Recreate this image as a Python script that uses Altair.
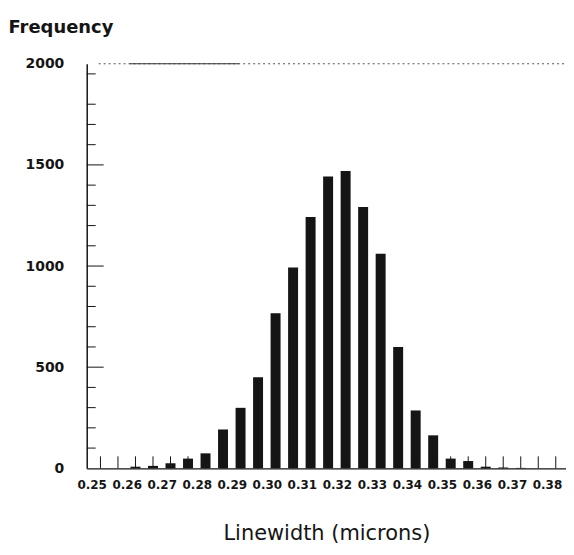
import altair as alt
import pandas as pd

# bin centres (microns) and counts
linewidth = [0.2525, 0.2575, 0.2625, 0.2675, 0.2725, 0.2775, 0.2825, 0.2875, 0.2925,
             0.2975, 0.3025, 0.3075, 0.3125, 0.3175, 0.3225, 0.3275, 0.3325, 0.3375,
             0.3425, 0.3475, 0.3525, 0.3575, 0.3625, 0.3675, 0.3725, 0.3775, 0.3825]
frequency = [0, 0, 8, 12, 25, 48, 74, 192, 299,
             450, 767, 993, 1243, 1443, 1470, 1292, 1061, 600,
             286, 163, 48, 36, 8, 4, 2, 0, 0]

x_ticks = [0.25, 0.26, 0.27, 0.28, 0.29, 0.30, 0.31, 0.32, 0.33, 0.34, 0.35, 0.36, 0.37, 0.38]
y_ticks = [0, 500, 1000, 1500, 2000]
y_minor = [100, 200, 300, 400, 600, 700, 800, 900, 1100, 1200, 1300, 1400,
           1600, 1700, 1800, 1950]
y_major = [500, 1000, 1500]

W, H = 481, 406
FONT = "DejaVu Sans"
INK = "#151515"

df = pd.DataFrame({"lw": linewidth, "freq": frequency})
minor_df = pd.DataFrame({"v": y_minor})
major_df = pd.DataFrame({"v": y_major})

xscale = alt.Scale(domain=[0.25, 0.384], nice=False, zero=False)
yscale = alt.Scale(domain=[0, 2000], nice=False)

xaxis = alt.Axis(
    values=x_ticks, format=".2f", title="Linewidth  (microns)",
    ticks=False, grid=False, domainColor=INK, domainWidth=1.2,
    labelFont=FONT, labelFontSize=12, labelFontWeight="bold", labelColor=INK,
    labelPadding=16, labelBaseline="middle", labelFlush=False, labelOverlap=False,
    labelSeparation=0,
    titleFont=FONT, titleFontSize=21, titleFontWeight="normal", titleColor=INK,
    titleX=W / 2, titleY=71, titleAlign="center", titleBaseline="alphabetic",
)
yaxis = alt.Axis(
    values=y_ticks, format="d", title="Frequency",
    ticks=False, grid=False, domainColor=INK, domainWidth=1.5,
    labelFont=FONT, labelFontSize=14, labelFontWeight="bold", labelColor=INK,
    labelPadding=23, labelOverlap=False,
    titleFont=FONT, titleFontSize=18, titleFontWeight="bold", titleColor=INK,
    titleAngle=0, titleAlign="left", titleBaseline="alphabetic",
    titleX=-79, titleY=-31,
)

X = alt.X("lw:Q", scale=xscale, axis=xaxis)

bars = alt.Chart(df).mark_bar(size=10, color=INK).encode(
    x=X,
    y=alt.Y("freq:Q", scale=yscale, axis=yaxis),
)

bottom_ticks = alt.Chart(df).mark_rule(color=INK, strokeWidth=1).encode(
    x=X,
    y=alt.value(H),
    y2=alt.value(H - 12),
)

minor = alt.Chart(minor_df).mark_rule(color=INK, strokeWidth=1).encode(
    y=alt.Y("v:Q", scale=yscale, axis=yaxis),
    x=alt.value(0),
    x2=alt.value(9),
)
major = alt.Chart(major_df).mark_rule(color=INK, strokeWidth=1).encode(
    y=alt.Y("v:Q", scale=yscale, axis=yaxis),
    x=alt.value(0),
    x2=alt.value(17),
)

top_line = alt.Chart(pd.DataFrame({"v": [2000]})).mark_rule(
    color="#555", strokeWidth=1, strokeDash=[2, 3]
).encode(
    y=alt.Y("v:Q", scale=yscale, axis=yaxis),
    x=alt.value(12),
    x2=alt.value(W),
)

solid_part = alt.Chart(pd.DataFrame({"v": [2000]})).mark_rule(
    color="#333", strokeWidth=1
).encode(
    y=alt.Y("v:Q", scale=yscale, axis=yaxis),
    x=alt.value(43),
    x2=alt.value(153),
)

chart = alt.layer(bars, bottom_ticks, minor, major, top_line, solid_part).properties(
    width=W, height=H,
    autosize=alt.AutoSizeParams(type="none"),
    padding={"left": 79, "top": 55, "right": 0, "bottom": 77},
    background="white",
).configure_view(stroke=None)

chart.save("out.html", embed_options={"renderer": "svg", "actions": False})
